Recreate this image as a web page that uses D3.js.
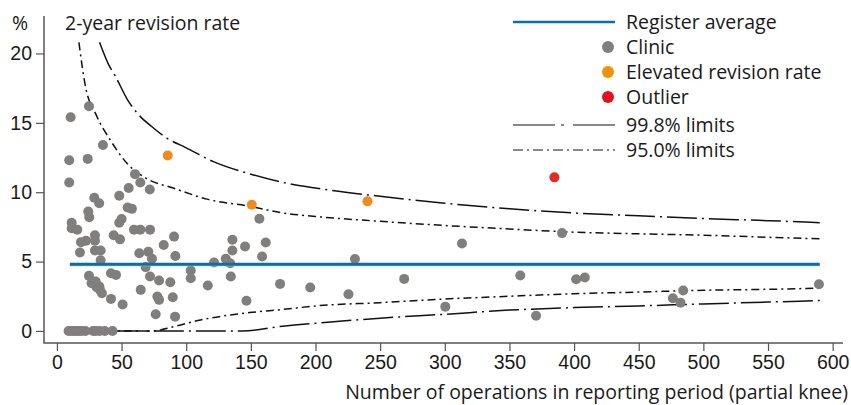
<!DOCTYPE html>
<html>
<head>
<meta charset="utf-8">
<script src="https://cdn.jsdelivr.net/npm/d3@7"></script>
<style>
    body { margin: 0; background: #fff; }
    svg { display: block; font-family: 'Open Sans', sans-serif; }
    .tick text { font-size: 19.5px; fill: #1a1a1a; }
    .tick line { stroke: #555; stroke-width: 1.2; }
    .label { font-size: 19.5px; fill: #1a1a1a; }
</style>
</head>
<body>
<svg id="chart" width="851" height="405"></svg>
<script>
// clinics: operations in reporting period, 2-year revision rate (%)
var clinicN = [10.6, 24.8, 35.6, 9.5, 23.8, 9.5, 60.4, 64.5, 71.8, 55.5, 48.2, 28.9, 32.7,
    11.4, 11.4, 15.7, 18.6, 22.5, 17.8, 24.2, 25, 29.4, 29.4, 29.4, 33.8, 33.8, 48.2, 50,
    54.7, 58, 43.9, 48.8, 59.6, 64.5, 72, 63.7, 70.7, 73.5, 68.6, 82.6, 90.6, 91.6, 24.8,
    26.8, 30, 30.7, 32.8, 33.3, 34.8, 41.8, 45.7, 41.8, 50.8, 64.8, 72, 79, 87.7, 77.7, 79,
    89.6, 76.4, 91.4, 103.5, 103.5, 116.7, 121.5, 130.6, 134, 135.7, 135.7, 134.5, 145.5,
    146.6, 156.6, 161.5, 158.7, 172.6, 195.9, 225.5, 230.5, 268.6, 300.4, 313.3, 358.4,
    370.6, 390.7, 401.6, 408.3, 476.4, 482.3, 484.4, 589.4,
    9, 11, 13, 15, 17, 19, 22, 28, 30, 33, 37, 43];
var clinicRate = [15.4, 16.2, 13.4, 12.3, 12.4, 10.7, 11.3, 10.7, 10.2, 10.3, 9.75, 9.6, 9.2,
    7.8, 7.4, 7.3, 6.4, 6.5, 5.65, 8.6, 8.2, 6.9, 6.5, 5.8, 5.8, 5.1, 7.8, 8.06,
    8.9, 8.8, 6.9, 6.6, 7.3, 7.3, 7.3, 5.6, 5.7, 5.2, 4.6, 6.2, 6.8, 5.4, 3.97,
    3.44, 3.56, 3.15, 3.2, 2.96, 2.72, 4.16, 4.04, 2.31, 1.9, 2.96, 3.92, 3.63, 3.51, 2.48, 2.24,
    2.43, 1.2, 1.03, 4.35, 3.8, 3.27, 4.93, 5.2, 4.88, 6.57, 5.8, 3.92, 6.09,
    2.17, 8.09, 6.38, 5.37, 3.39, 3.13, 2.65, 5.18, 3.75, 1.75, 6.3, 3.99,
    1.1, 7.05, 3.73, 3.85, 2.36, 2.04, 2.91, 3.37,
    0, 0, 0, 0, 0, 0, 0, 0, 0, 0, 0, 0];
var elevatedN = [85.7, 150.7, 240.2];
var elevatedRate = [12.64, 9.1, 9.34];
var outlierN = [384.8];
var outlierRate = [11.07];
var registerAverage = 4.8;
var averageRange = [10, 590];

// control limits
var upper998N = [33, 40, 45, 55, 63, 73, 85, 100, 121, 150, 175, 200, 250, 300, 350, 400, 450, 500, 550, 590];
var upper998 = [20.8, 19.2, 18.4, 16.6, 15.6, 14.75, 13.9, 13.2, 12.2, 11.3, 10.7, 10.3, 9.7, 9.2, 8.8, 8.5, 8.3, 8.1, 7.95, 7.8];
var upper950N = [17, 21.7, 30.7, 41, 54, 69, 90, 116, 150, 175, 200, 250, 300, 350, 400, 450, 500, 550, 590];
var upper950 = [20.8, 17.8, 15.5, 13.8, 12.1, 11.0, 10.3, 9.5, 8.97, 8.5, 8.25, 7.9, 7.6, 7.35, 7.12, 7.0, 6.9, 6.75, 6.64];
var lower950N = [10, 74, 90, 111, 149, 175, 200, 250, 300, 350, 400, 450, 500, 550, 590];
var lower950 = [0, 0, 0.3, 0.79, 1.32, 1.55, 1.8, 2.04, 2.3, 2.5, 2.68, 2.8, 2.93, 3.0, 3.08];
var lower998N = [10, 144, 172, 200, 250, 300, 350, 400, 450, 500, 550, 590];
var lower998 = [0, 0, 0.31, 0.55, 0.92, 1.2, 1.5, 1.68, 1.8, 1.95, 2.08, 2.19];

var xTicks = [0, 50, 100, 150, 200, 250, 300, 350, 400, 450, 500, 550, 600];
var yTicks = [0, 5, 10, 15, 20];

var legendItems = [
    {type: 'avg', label: 'Register average'},
    {type: 'dot', label: 'Clinic', color: '#807f7e'},
    {type: 'dot', label: 'Elevated revision rate', color: '#f39200'},
    {type: 'dot', label: 'Outlier', color: '#e3101b'},
    {type: 'dash', label: '99.8% limits', dash: '42,6,3,9'},
    {type: 'dash', label: '95.0% limits', dash: '10,4,2,4'}
];

var svg = d3.select('#chart');

var x = d3.scaleLinear().domain([-10, 608]).range([44, 843]);
var y = d3.scaleLinear().domain([-0.87, 22.7]).range([343, 16]);

function zip(ns, vs) {
    return ns.map(function(n, i) { return [n, vs[i]]; });
}

// axes
var xAxis = svg.append('g')
    .attr('transform', 'translate(0,343)')
    .call(d3.axisBottom(x).tickValues(xTicks).tickSize(8).tickPadding(4).tickFormat(d3.format('d')));
xAxis.select('.domain').remove();

var yAxis = svg.append('g')
    .attr('transform', 'translate(44,0)')
    .call(d3.axisLeft(y).tickValues(yTicks).tickSize(8).tickPadding(4).tickFormat(d3.format('d')));
yAxis.select('.domain').remove();

svg.append('path')
    .attr('d', 'M' + x(-10) + ',' + y(22.7) + 'V' + y(-0.87) + 'H' + x(608))
    .attr('fill', 'none')
    .attr('stroke', '#555')
    .attr('stroke-width', 1.5);

svg.append('text').classed('label', true)
    .attr('x', 12).attr('y', 30).text('%');
svg.append('text').classed('label', true)
    .attr('x', 65).attr('y', 30).text('2-year revision rate');
svg.append('text').classed('label', true)
    .attr('x', 848).attr('y', 399)
    .attr('text-anchor', 'end')
    .text('Number of operations in reporting period (partial knee)');

// control limit curves
var line = d3.line()
    .x(function(d) { return x(d[0]); })
    .y(function(d) { return y(d[1]); })
    .curve(d3.curveMonotoneX);

var limits = [
    {pts: zip(upper998N, upper998), dash: '30,5,2,5'},
    {pts: zip(lower998N, lower998), dash: '30,5,2,5'},
    {pts: zip(upper950N, upper950), dash: '8,4,2,4'},
    {pts: zip(lower950N, lower950), dash: '8,4,2,4'}
];

svg.selectAll('path.limit')
    .data(limits)
    .join('path')
    .classed('limit', true)
    .attr('d', function(d) { return line(d.pts); })
    .attr('fill', 'none')
    .attr('stroke', '#111')
    .attr('stroke-width', 1.5)
    .attr('stroke-dasharray', function(d) { return d.dash; });

// points
function drawDots(ns, vs, color) {
    svg.append('g')
        .selectAll('circle')
        .data(zip(ns, vs))
        .join('circle')
        .attr('cx', function(d) { return x(d[0]); })
        .attr('cy', function(d) { return y(d[1]); })
        .attr('r', 5)
        .attr('fill', color);
}
drawDots(clinicN, clinicRate, '#807f7e');
drawDots(elevatedN, elevatedRate, '#f08a1c');
drawDots(outlierN, outlierRate, '#e32a24');

// register average
svg.append('line')
    .attr('x1', x(averageRange[0])).attr('x2', x(averageRange[1]))
    .attr('y1', y(registerAverage) + 1).attr('y2', y(registerAverage) + 1)
    .attr('stroke', '#9ccbe2').attr('stroke-width', 2);
svg.append('line')
    .attr('x1', x(averageRange[0])).attr('x2', x(averageRange[1]))
    .attr('y1', y(registerAverage)).attr('y2', y(registerAverage))
    .attr('stroke', '#0a70a3').attr('stroke-width', 3);

// legend
var legend = svg.append('g');
var rowY = [22, 47, 72, 97, 125, 150];

legendItems.forEach(function(d, i) {
    var g = legend.append('g').attr('transform', 'translate(0,' + rowY[i] + ')');
    if(d.type === 'avg') {
        g.append('line').attr('x1', 513).attr('x2', 615)
            .attr('stroke', '#0a70a3').attr('stroke-width', 2.5);
    } else if(d.type === 'dot') {
        g.append('circle').attr('cx', 608).attr('r', 6).attr('fill', d.color);
    } else {
        g.append('line').attr('x1', 513).attr('x2', 615)
            .attr('stroke', '#888').attr('stroke-width', 2)
            .attr('stroke-dasharray', d.dash);
    }
    g.append('text').classed('label', true)
        .attr('x', 626).attr('y', 7)
        .text(d.label);
});
</script>
</body>
</html>
